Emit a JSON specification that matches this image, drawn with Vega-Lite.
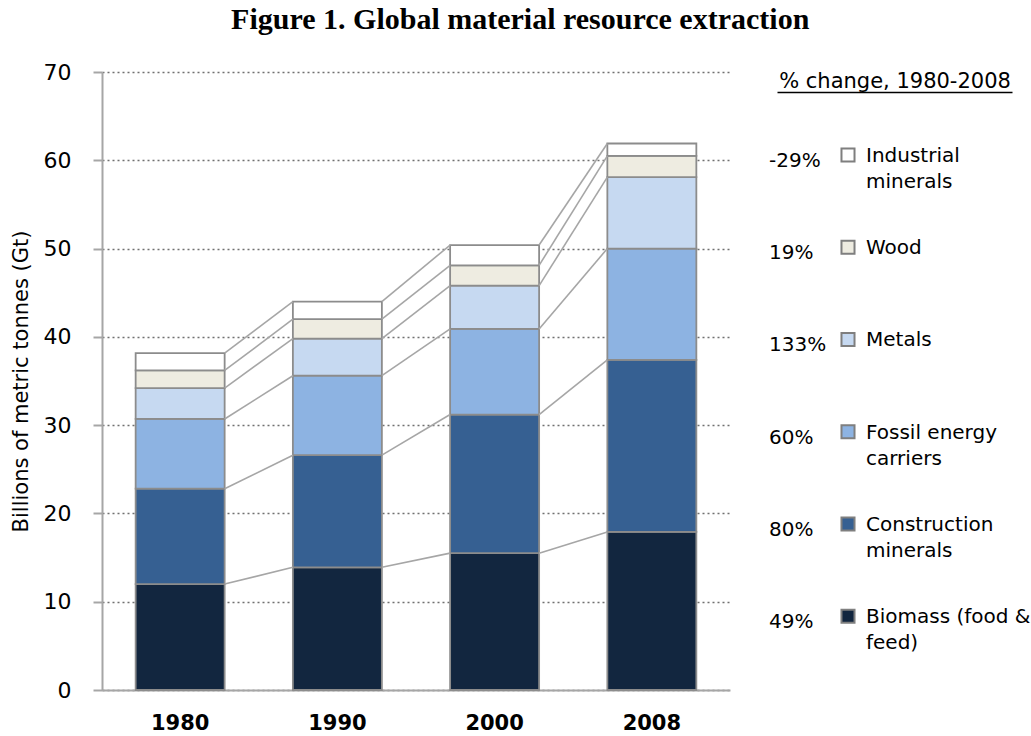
{
  "$schema": "https://vega.github.io/schema/vega-lite/v6.json",
  "padding": {"left": 10, "top": 5, "right": 0, "bottom": 0},
  "background": "white",
  "title": {"text": "Figure 1. Global material resource extraction", "font": "Liberation Serif", "fontSize": 30, "fontWeight": "bold", "color": "black", "anchor": "middle", "offset": 26},
  "datasets": {
    "extraction": [
      {"year": "1980", "material": "Biomass (food & feed)", "order": 1, "value": 12.0},
      {"year": "1980", "material": "Construction minerals", "order": 2, "value": 10.8},
      {"year": "1980", "material": "Fossil energy carriers", "order": 3, "value": 7.9},
      {"year": "1980", "material": "Metals", "order": 4, "value": 3.5},
      {"year": "1980", "material": "Wood", "order": 5, "value": 2.0},
      {"year": "1980", "material": "Industrial minerals", "order": 6, "value": 1.95},
      {"year": "1990", "material": "Biomass (food & feed)", "order": 1, "value": 13.9},
      {"year": "1990", "material": "Construction minerals", "order": 2, "value": 12.7},
      {"year": "1990", "material": "Fossil energy carriers", "order": 3, "value": 9.0},
      {"year": "1990", "material": "Metals", "order": 4, "value": 4.2},
      {"year": "1990", "material": "Wood", "order": 5, "value": 2.2},
      {"year": "1990", "material": "Industrial minerals", "order": 6, "value": 2.0},
      {"year": "2000", "material": "Biomass (food & feed)", "order": 1, "value": 15.5},
      {"year": "2000", "material": "Construction minerals", "order": 2, "value": 15.7},
      {"year": "2000", "material": "Fossil energy carriers", "order": 3, "value": 9.7},
      {"year": "2000", "material": "Metals", "order": 4, "value": 4.9},
      {"year": "2000", "material": "Wood", "order": 5, "value": 2.3},
      {"year": "2000", "material": "Industrial minerals", "order": 6, "value": 2.3},
      {"year": "2008", "material": "Biomass (food & feed)", "order": 1, "value": 17.9},
      {"year": "2008", "material": "Construction minerals", "order": 2, "value": 19.5},
      {"year": "2008", "material": "Fossil energy carriers", "order": 3, "value": 12.6},
      {"year": "2008", "material": "Metals", "order": 4, "value": 8.1},
      {"year": "2008", "material": "Wood", "order": 5, "value": 2.4},
      {"year": "2008", "material": "Industrial minerals", "order": 6, "value": 1.4}
    ],
    "legend": [
      {"material": "Industrial minerals", "pct": "-29%", "label": ["Industrial", "minerals"]},
      {"material": "Wood", "pct": "19%", "label": ["Wood"]},
      {"material": "Metals", "pct": "133%", "label": ["Metals"]},
      {"material": "Fossil energy carriers", "pct": "60%", "label": ["Fossil energy", "carriers"]},
      {"material": "Construction minerals", "pct": "80%", "label": ["Construction", "minerals"]},
      {"material": "Biomass (food & feed)", "pct": "49%", "label": ["Biomass (food &", "feed)"]}
    ]
  },
  "bounds": "flush",
  "spacing": 47,
  "hconcat": [
    {
      "width": 628,
      "height": 618,
      "data": {"name": "extraction"},
      "layer": [
        {
          "mark": {"type": "bar", "stroke": "#8c8c8c", "strokeWidth": 1.8},
          "encoding": {
            "x": {"field": "year", "type": "ordinal", "scale": {"paddingInner": 0.434, "paddingOuter": 0.214},
              "axis": {"title": null, "domainColor": "#a6a6a6", "domainWidth": 2, "ticks": false, "tickSize": 0, "labelPadding": 22, "labelFont": "DejaVu Sans", "labelFontWeight": "bold", "labelFontSize": 21, "labelColor": "black", "labelAngle": 0, "grid": false}},
            "y": {"field": "value", "type": "quantitative", "stack": "zero", "scale": {"domain": [0, 70], "nice": false},
              "axis": {"title": "Billions of metric tonnes (Gt)", "values": [0, 10, 20, 30, 40, 50, 60, 70], "grid": true, "gridDash": [2, 3], "gridColor": "#707070", "gridWidth": 1.5, "domainColor": "#a6a6a6", "domainWidth": 2, "tickColor": "#a6a6a6", "tickWidth": 2, "tickSize": 9, "labelPadding": 22, "labelFont": "DejaVu Sans", "labelFontSize": 22, "labelColor": "black", "titleFont": "DejaVu Sans", "titleFontSize": 21, "titleFontWeight": "normal", "titleColor": "black", "titlePadding": 12}},
            "color": {"field": "material", "type": "nominal",
              "scale": {"domain": ["Biomass (food & feed)", "Construction minerals", "Fossil energy carriers", "Metals", "Wood", "Industrial minerals"], "range": ["#12263f", "#366092", "#8db3e2", "#c6d9f1", "#eeece1", "#ffffff"]},
              "legend": null},
            "order": {"field": "order", "type": "quantitative"}
          }
        },
        {
          "transform": [
            {"window": [{"op": "sum", "field": "value", "as": "cum"}], "groupby": ["year"], "sort": [{"field": "order"}], "frame": [null, 0]},
            {"window": [{"op": "lead", "field": "cum", "as": "next_cum"}, {"op": "lead", "field": "year", "as": "next_year"}], "groupby": ["material"], "sort": [{"field": "year"}], "frame": [null, null]},
            {"filter": "datum.next_year != null"}
          ],
          "mark": {"type": "rule", "color": "#a6a6a6", "strokeWidth": 1.6},
          "encoding": {
            "x": {"field": "year", "type": "ordinal", "bandPosition": 1,
              "axis": {"title": null, "domainColor": "#a6a6a6", "domainWidth": 2, "ticks": false, "tickSize": 0, "labelPadding": 22, "labelFont": "DejaVu Sans", "labelFontWeight": "bold", "labelFontSize": 21, "labelColor": "black", "labelAngle": 0, "grid": false}},
            "x2": {"field": "next_year", "bandPosition": 0},
            "y": {"field": "cum", "type": "quantitative",
              "axis": {"title": "Billions of metric tonnes (Gt)", "values": [0, 10, 20, 30, 40, 50, 60, 70], "grid": true, "gridDash": [2, 3], "gridColor": "#707070", "gridWidth": 1.5, "domainColor": "#a6a6a6", "domainWidth": 2, "tickColor": "#a6a6a6", "tickWidth": 2, "tickSize": 9, "labelPadding": 22, "labelFont": "DejaVu Sans", "labelFontSize": 22, "labelColor": "black", "titleFont": "DejaVu Sans", "titleFontSize": 21, "titleFontWeight": "normal", "titleColor": "black", "titlePadding": 12}},
            "y2": {"field": "next_cum"}
          }
        }
      ]
    },
    {
      "width": 235,
      "height": 618,
      "data": {"name": "legend"},
      "encoding": {
        "y": {"field": "material", "type": "nominal", "scale": {"type": "point", "domain": ["Industrial minerals", "Wood", "Metals", "Fossil energy carriers", "Construction minerals", "Biomass (food & feed)"], "padding": 0.85, "align": 0.529}, "axis": null}
      },
      "layer": [
        {
          "mark": {"type": "text", "align": "left", "baseline": "middle", "dy": 6, "font": "DejaVu Sans", "fontSize": 20, "color": "black"},
          "encoding": {
            "x": {"datum": -8, "type": "quantitative", "scale": {"domain": [0, 235], "nice": false, "zero": false},
              "axis": {"orient": "top", "offset": -20, "title": "% change, 1980-2008", "titleFont": "DejaVu Sans", "titleFontSize": 21, "titleFontWeight": "normal", "titleColor": "black", "titlePadding": 1, "domainColor": "black", "domainWidth": 1.5, "ticks": false, "labels": false, "grid": false}},
            "text": {"field": "pct", "type": "nominal"}
          }
        },
        {
          "mark": {"type": "point", "shape": "square", "filled": true, "size": 170, "stroke": "#7f7f7f", "strokeWidth": 2, "opacity": 1},
          "encoding": {
            "x": {"datum": 71, "type": "quantitative",
              "axis": {"orient": "top", "offset": -20, "title": "% change, 1980-2008", "titleFont": "DejaVu Sans", "titleFontSize": 21, "titleFontWeight": "normal", "titleColor": "black", "titlePadding": 1, "domainColor": "black", "domainWidth": 1.5, "ticks": false, "labels": false, "grid": false}},
            "color": {"field": "material", "type": "nominal",
              "scale": {"domain": ["Biomass (food & feed)", "Construction minerals", "Fossil energy carriers", "Metals", "Wood", "Industrial minerals"], "range": ["#12263f", "#366092", "#8db3e2", "#c6d9f1", "#eeece1", "#ffffff"]},
              "legend": null}
          }
        },
        {
          "mark": {"type": "text", "align": "left", "baseline": "alphabetic", "dy": 7, "font": "DejaVu Sans", "fontSize": 20, "lineHeight": 26, "color": "black"},
          "encoding": {
            "x": {"datum": 89, "type": "quantitative",
              "axis": {"orient": "top", "offset": -20, "title": "% change, 1980-2008", "titleFont": "DejaVu Sans", "titleFontSize": 21, "titleFontWeight": "normal", "titleColor": "black", "titlePadding": 1, "domainColor": "black", "domainWidth": 1.5, "ticks": false, "labels": false, "grid": false}},
            "text": {"field": "label", "type": "nominal"}
          }
        }
      ]
    }
  ],
  "config": {"view": {"stroke": null}}
}
